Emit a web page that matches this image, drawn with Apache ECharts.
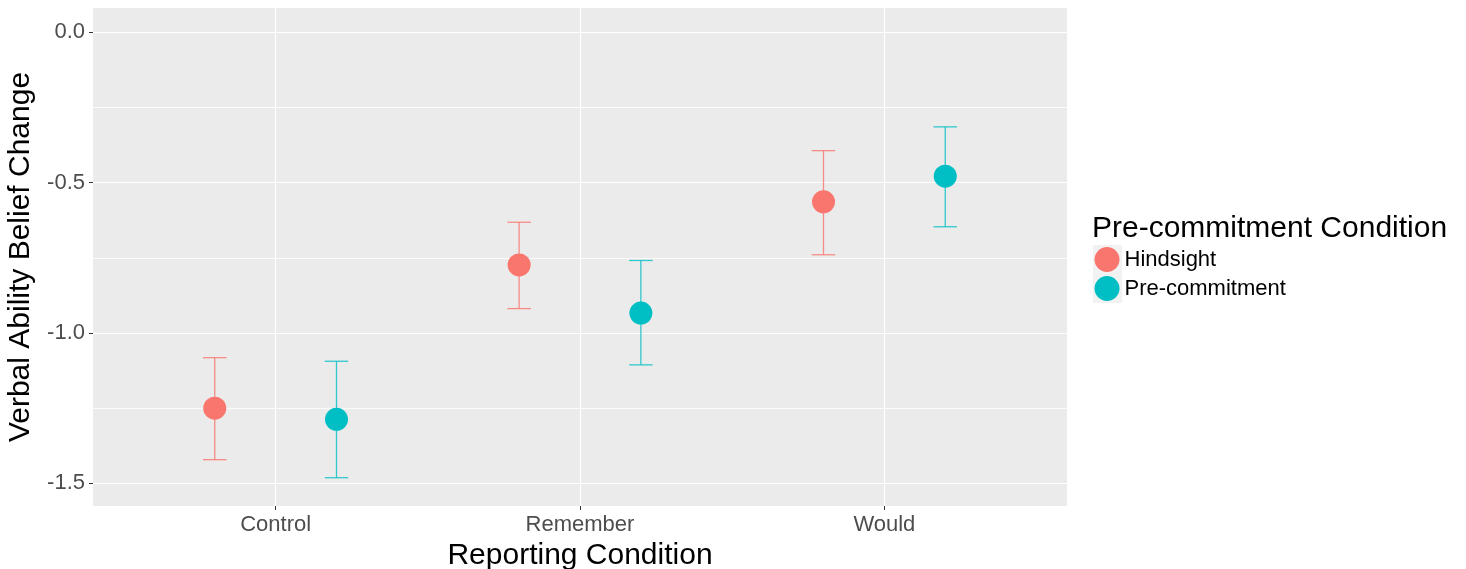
<!DOCTYPE html>
<html><head><meta charset="utf-8">
<script src="https://cdn.jsdelivr.net/npm/echarts@6/dist/echarts.min.js"></script>
<style>html,body{margin:0;padding:0;background:#fff}#c{width:1466px;height:569px}</style>
</head><body><div id="c"></div>
<script>
// ---- data ----
const categories = ['Control', 'Remember', 'Would'];
const groups = ['Hindsight', 'Pre-commitment'];
const hindsightMean = [-1.250, -0.774, -0.564];
const hindsightLow  = [-1.421, -0.919, -0.740];
const hindsightHigh = [-1.082, -0.632, -0.394];
const precommitMean = [-1.287, -0.934, -0.479];
const precommitLow  = [-1.481, -1.106, -0.647];
const precommitHigh = [-1.094, -0.759, -0.315];
const yMajorTicks = [-1.5, -1.0, -0.5, 0.0];
const yMinorTicks = [-1.25, -0.75, -0.25];
const xTicks = [1, 2, 3];

// ---- style ----
const colors = ['#F8766D', '#00BFC4'];
const dodge = 0.2;
const capWidth = 0.077;
const font = "'Liberation Sans', Arial, sans-serif";

function points(mean, off) { return mean.map((m, i) => [i + 1 + off, m]); }
function bars(lo, hi, off) { return lo.map((l, i) => [i + 1 + off, l, hi[i]]); }

function errorSeries(name, data, color) {
  return {
    type: 'custom', name: name, data: data, z: 3, silent: true,
    encode: { x: 0, y: [1, 2] },
    renderItem: function (params, api) {
      const x = api.value(0);
      const lo = api.coord([x, api.value(1)]);
      const hi = api.coord([x, api.value(2)]);
      const half = api.size([capWidth, 0])[0] / 2;
      const style = { stroke: color, lineWidth: 1.3, opacity: 0.8, fill: null };
      return { type: 'group', children: [
        { type: 'line', shape: { x1: lo[0], y1: lo[1], x2: hi[0], y2: hi[1] }, style: style },
        { type: 'line', shape: { x1: lo[0] - half, y1: lo[1], x2: lo[0] + half, y2: lo[1] }, style: style },
        { type: 'line', shape: { x1: hi[0] - half, y1: hi[1], x2: hi[0] + half, y2: hi[1] }, style: style }
      ]};
    }
  };
}

const chart = echarts.init(document.getElementById('c'));
chart.setOption({
  animation: false,
  backgroundColor: '#ffffff',
  textStyle: { fontFamily: font },
  grid: { left: 93, top: 8, width: 974, height: 498, show: true, backgroundColor: '#ebebeb', borderWidth: 0,
    containLabel: false, outerBoundsMode: 'none' },
  xAxis: {
    type: 'value', min: 0.4, max: 3.6,
    name: 'Reporting Condition', nameLocation: 'middle', nameGap: 32,
    nameTextStyle: { fontSize: 30, color: '#000', fontFamily: font },
    axisLine: { show: false, onZero: false },
    axisTick: { show: true, length: 4, customValues: xTicks, lineStyle: { color: '#333', width: 1 } },
    axisLabel: { customValues: xTicks, fontSize: 22, color: '#4d4d4d', margin: 8, fontFamily: font,
      formatter: v => categories[Math.round(v) - 1] },
    splitLine: { show: true, lineStyle: { color: '#ffffff', width: 1.2 } }
  },
  yAxis: [{
    type: 'value', min: -1.575, max: 0.08,
    name: 'Verbal Ability Belief Change', nameLocation: 'middle', nameGap: 56,
    nameTextStyle: { fontSize: 30, color: '#000', fontFamily: font },
    axisLine: { show: false, onZero: false },
    axisTick: { show: true, length: 4, customValues: yMajorTicks, lineStyle: { color: '#333', width: 1 } },
    axisLabel: { customValues: yMajorTicks, fontSize: 22, color: '#4d4d4d', margin: 8, fontFamily: font,
      formatter: v => v.toFixed(1) },
    splitLine: { show: true, lineStyle: { color: '#ffffff', width: 1.2 } }
  }, {
    type: 'value', min: -1.575, max: 0.08, position: 'left',
    axisLine: { show: false, onZero: false },
    axisTick: { show: false, customValues: yMinorTicks },
    axisLabel: { show: false, customValues: yMinorTicks },
    splitLine: { show: true, lineStyle: { color: '#ffffff', width: 0.8 } }
  }],
  legend: {
    data: groups, orient: 'vertical', left: 1094.5, top: 247, padding: 0,
    itemWidth: 25, itemHeight: 25, itemGap: 4, icon: 'circle',
    textStyle: { fontSize: 22, color: '#000', fontFamily: font }
  },
  graphic: [
    { type: 'rect', left: 1093, top: 245, z: -1, shape: { width: 29, height: 29 }, style: { fill: '#f2f2f2' } },
    { type: 'rect', left: 1093, top: 274, z: -1, shape: { width: 29, height: 29 }, style: { fill: '#f2f2f2' } },
    { type: 'text', left: 1092, top: 214, style: { text: 'Pre-commitment Condition', fontSize: 30, fill: '#000', fontFamily: font } }
  ],
  series: [
    { type: 'scatter', name: groups[0], data: points(hindsightMean, -dodge), symbolSize: 23, z: 4,
      itemStyle: { color: colors[0], opacity: 1 } },
    { type: 'scatter', name: groups[1], data: points(precommitMean, dodge), symbolSize: 23, z: 4,
      itemStyle: { color: colors[1], opacity: 1 } },
    errorSeries('Hindsight SE', bars(hindsightLow, hindsightHigh, -dodge), colors[0]),
    errorSeries('Pre-commitment SE', bars(precommitLow, precommitHigh, dodge), colors[1])
  ]
});
</script>
</body></html>
